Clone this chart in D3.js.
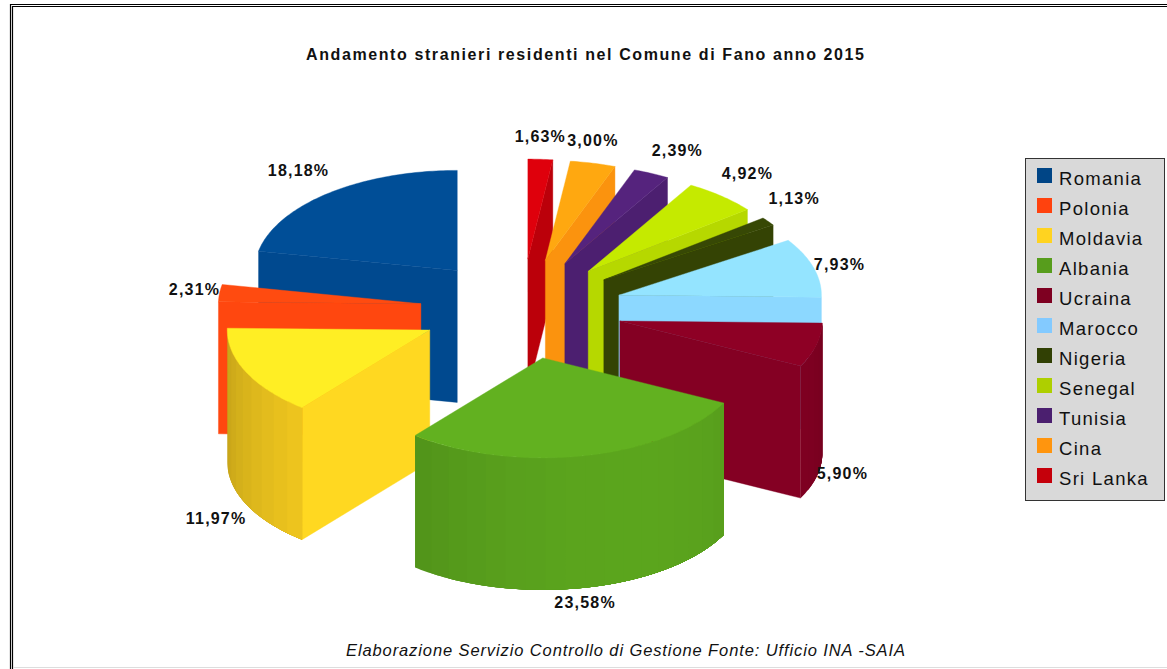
<!DOCTYPE html>
<html>
<head>
<meta charset="utf-8">
<script src="https://cdn.jsdelivr.net/npm/d3@7"></script>
<style>
html, body { margin: 0; padding: 0; background: #fff; overflow: hidden; }
text { font-family: "Liberation Sans", Arial, sans-serif; fill: #111; }
</style>
</head>
<body>
<div id="chart"></div>
<script>
const countries = ["Romania", "Polonia", "Moldavia", "Albania", "Ucraina", "Marocco", "Nigeria", "Senegal", "Tunisia", "Cina", "Sri Lanka"];
const shares = [18.18, 2.31, 11.97, 23.58, 5.90, 7.93, 1.13, 4.92, 2.39, 3.00, 1.63];
const palette = ["#004586", "#ff420e", "#ffd320", "#579d1c", "#7e0021", "#83caff", "#314004", "#aecf00", "#4b1f6f", "#ff950e", "#c5000b"];
const chartTitle = "Andamento stranieri residenti nel Comune di Fano anno 2015";
const footerText = "Elaborazione Servizio Controllo di Gestione Fonte: Ufficio INA -SAIA";

const width = 1167, height = 669;
const explode = 0.5;
const wallHeight = 132;
const stripStep = Math.PI / 30;
const fineStep = Math.PI / 180;

let svg = d3.select("#chart")
    .append("svg")
    .attr("width", width)
    .attr("height", height);

// page frame
let frame = svg.append("g").attr("fill", "none");
frame.append("path").attr("d", `M10.5,${height} V4.5 H${width}`).attr("stroke", "#000").attr("stroke-width", 1.2);
frame.append("path").attr("d", `M12.5,${height} V6.5 H${width}`).attr("stroke", "#000").attr("stroke-width", 1.2);
frame.append("path").attr("d", `M13,667.5 H${width}`).attr("stroke", "#ddd").attr("stroke-width", 1);

svg.append("text")
    .attr("x", 306).attr("y", 60)
    .attr("textLength", 558)
    .style("font-size", "16px").style("font-weight", "bold")
    .text(chartTitle);

svg.append("text")
    .attr("x", 346).attr("y", 656)
    .attr("textLength", 559)
    .style("font-size", "16.5px").style("font-style", "italic")
    .text(footerText);

// flat projection: radius 1 on the pie plane
let x = d3.scaleLinear().domain([-1, 1]).range([319.1, 724.1]);
let y = d3.scaleLinear().domain([-1, 1]).range([209, 409]);

// angles run counter clockwise from the top
let pie = d3.pie().sort(null).startAngle(0).endAngle(2 * Math.PI);
let slices = pie(shares).map(function(d, i) {
    let mid = (d.startAngle + d.endAngle) / 2;
    return {
        name: countries[i],
        share: d.data,
        color: palette[i],
        a0: d.startAngle,
        a1: d.endAngle,
        mid: mid,
        ox: -Math.sin(mid) * explode,
        oy: -Math.cos(mid) * explode
    };
});

function pt(s, a, r, z) {
    return [x(s.ox - Math.sin(a) * r), y(s.oy - Math.cos(a) * r) + z * wallHeight];
}

function shade(color, f) {
    let c = d3.rgb(color);
    return d3.rgb(c.r * f, c.g * f, c.b * f).formatHex();
}

function arcAngles(a0, a1, step) {
    let n = Math.max(1, Math.ceil((a1 - a0) / step));
    return d3.range(n + 1).map(i => a0 + (a1 - a0) * i / n);
}

let line = d3.line();

function topFace(s) {
    let arc = arcAngles(s.a0, s.a1, fineStep).map(a => pt(s, a, 1, 0));
    return line([pt(s, 0, 0, 0)].concat(arc)) + "Z";
}

function cutWall(s, a) {
    return line([pt(s, 0, 0, 0), pt(s, a, 1, 0), pt(s, a, 1, 1), pt(s, 0, 0, 1)]) + "Z";
}

function cutColor(s, normal) {
    let f = 0.92 + 0.15 * Math.cos(normal - 185 * Math.PI / 180);
    return shade(s.color, f);
}

// each strip runs on to the far end of the wall, the next one paints over it
function outerStrips(s) {
    let from = Math.max(s.a0, Math.PI / 2), to = Math.min(s.a1, 1.5 * Math.PI);
    if (to <= from) return [];
    let angles = arcAngles(from, to, stripStep);
    return d3.pairs(angles).map(function(p) {
        let fine = arcAngles(p[0], to, fineStep);
        let upper = fine.map(a => pt(s, a, 1, 0));
        let lower = fine.slice().reverse().map(a => pt(s, a, 1, 1));
        let m = (p[0] + p[1]) / 2;
        let f = 0.85 + 0.2 * Math.cos(m - 205 * Math.PI / 180);
        return { d: line(upper.concat(lower)) + "Z", fill: shade(s.color, f) };
    });
}

// back slices first
let order = slices.slice().sort((a, b) => d3.ascending(a.oy, b.oy));

let groups = svg.append("g").selectAll("g")
    .data(order)
    .enter()
    .append("g");

groups.each(function(s) {
    let g = d3.select(this);
    if (Math.sin(s.a0) < -1e-6) {
        let c = cutColor(s, s.a0 - Math.PI / 2);
        g.append("path").attr("d", cutWall(s, s.a0)).attr("fill", c).attr("stroke", c).attr("stroke-width", 0.4);
    }
    if (Math.sin(s.a1) > 1e-6) {
        let c = cutColor(s, s.a1 + Math.PI / 2);
        g.append("path").attr("d", cutWall(s, s.a1)).attr("fill", c).attr("stroke", c).attr("stroke-width", 0.4);
    }
    g.selectAll("path.strip")
        .data(outerStrips(s))
        .enter()
        .append("path")
        .attr("class", "strip")
        .attr("d", d => d.d)
        .attr("fill", d => d.fill);
    let t = shade(s.color, 1.13);
    g.append("path").attr("d", topFace(s)).attr("fill", t).attr("stroke", t).attr("stroke-width", 0.4);
});

// percent labels hang off the outer edge of each slice
svg.append("g").selectAll("text")
    .data(slices)
    .enter()
    .append("text")
    .attr("text-anchor", "middle")
    .style("font-size", "16px")
    .style("font-weight", "bold")
    .style("letter-spacing", "1.2px")
    .attr("x", function(s) {
        let sn = -Math.sin(s.mid), cs = -Math.cos(s.mid);
        if (Math.abs(sn) < 0.25) return pt(s, s.mid, 1, 0)[0];
        let dx = sn > 0 ? 26 : (Math.abs(cs) > 0.3 ? -30 : -25);
        return pt(s, s.mid, 1, 0)[0] + dx;
    })
    .attr("y", function(s) {
        let cs = -Math.cos(s.mid);
        let front = cs > 0.05 ? 1 : 0;
        let dy = Math.abs(cs) < 0.3 ? -4 : (cs < 0 ? -23 : 14);
        return pt(s, s.mid, 1, front)[1] + dy + 6;
    })
    .text(s => s.share.toFixed(2).replace(".", ",") + "%");

// legend
let legend = svg.append("g");
legend.append("rect")
    .attr("x", 1025.5).attr("y", 158.5)
    .attr("width", 139).attr("height", 342)
    .attr("fill", "#d9d9d9").attr("stroke", "#333").attr("stroke-width", 1);

let rowY = d3.scaleBand().domain(countries).range([160, 490]);

let rows = legend.selectAll("g.row")
    .data(countries)
    .enter()
    .append("g")
    .attr("class", "row")
    .attr("transform", d => `translate(0, ${rowY(d)})`);

rows.append("rect")
    .attr("x", 1037).attr("y", 8)
    .attr("width", 15).attr("height", 15)
    .attr("fill", (d, i) => palette[i]);

rows.append("text")
    .attr("x", 1059).attr("y", 24.5)
    .style("font-size", "18.5px")
    .style("letter-spacing", "1.3px")
    .text(d => d);
</script>
</body>
</html>
